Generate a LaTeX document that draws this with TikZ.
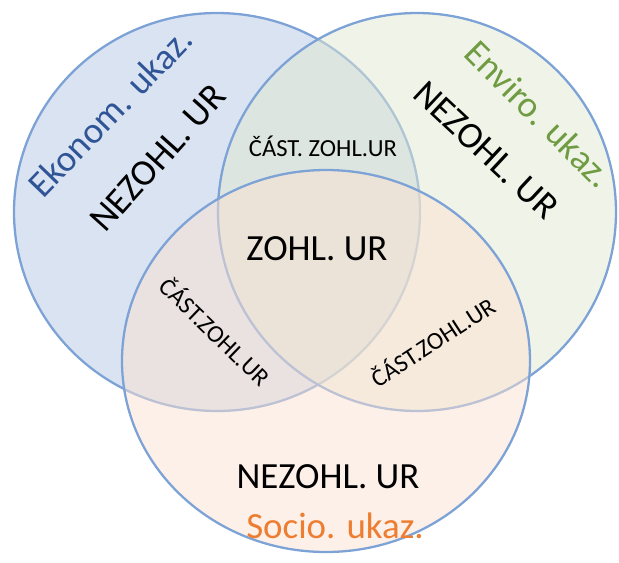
\documentclass[tikz,border=0pt]{standalone}
\usepackage{fontspec}
\setmainfont{Carlito}
\usetikzlibrary{positioning}
\definecolor{ekofill}{HTML}{B5C7E5}
\definecolor{envfill}{HTML}{E1E9D1}
\definecolor{socfill}{HTML}{FBE1D1}
\definecolor{setline}{HTML}{7DA2D6}
\definecolor{ekotext}{HTML}{2F5597}
\definecolor{envtext}{HTML}{6F9C42}
\definecolor{soctext}{HTML}{ED7D31}
\tikzset{
  set/.style={draw=setline, line width=1.3pt, fill opacity=0.5},
  big/.style={font=\fontsize{21}{24}\selectfont, inner sep=0pt},
  small/.style={font=\fontsize{14}{17}\selectfont, inner sep=0pt}
}

\begin{document}
\begin{tikzpicture}[x=0.02cm, y=-0.02cm]
\useasboundingbox (0,0) rectangle (619,562);
% three sets
\draw[set, fill=ekofill] (217,212) ellipse [x radius=203, y radius=199];
\draw[set, fill=envfill] (417,212) ellipse [x radius=199, y radius=199];
\draw[set, fill=socfill] (326,361) ellipse [x radius=204, y radius=191];
% labels of the sets
\node[big, rotate=46, text=ekotext] (ekotitle) at (110,112) {Ekonom. ukaz.};
\node[big, rotate=-45, text=envtext] (envtitle) at (539,114) {Enviro. ukaz.};
\node[big, text=soctext] (soctitle) at (335,526) {Socio. ukaz.};
\node[big, rotate=48] (ekonez) at (158,158) {NEZOHL. UR};
\node[big, rotate=-43] (envnez) at (486,150) {NEZOHL. UR};
\node[big] (socnez) at (328,477) {NEZOHL. UR};
% overlaps
\node[small] (casttop) at (323,146) {ČÁST. ZOHL.UR};
\node[small, rotate=-44] (castleft) at (216,331) {ČÁST.ZOHL.UR};
\node[small, rotate=33] (castright) at (432,341) {ČÁST.ZOHL.UR};
\node[big] (zohl) at (317,249) {ZOHL. UR};
\end{tikzpicture}
\end{document}
